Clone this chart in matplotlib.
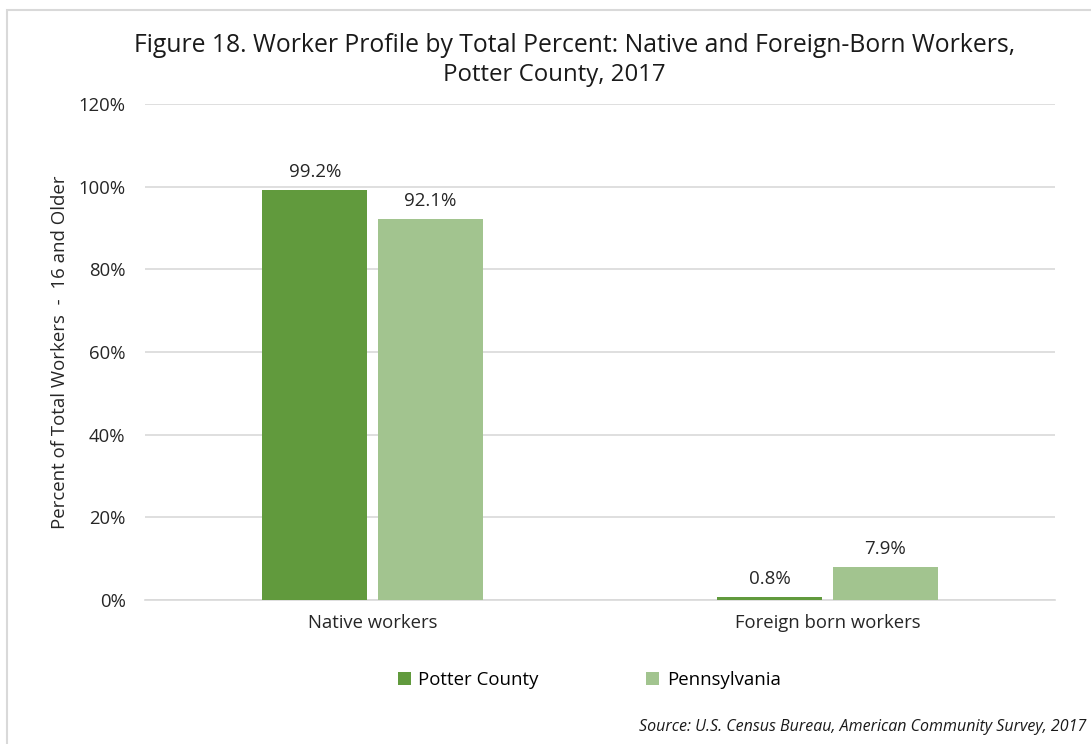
import matplotlib.pyplot as plt
import numpy as np
from matplotlib.patches import Rectangle

# data
categories = ['Native workers', 'Foreign born workers']
potter = [99.2, 0.8]
penn = [92.1, 7.9]
series_names = ['Potter County', 'Pennsylvania']
yticks = [0, 20, 40, 60, 80, 100, 120]

plt.rcParams['font.family'] = ['Open Sans', 'DejaVu Sans']

fig = plt.figure(figsize=(10.91, 7.44), dpi=100)
ax = fig.add_axes([0.1329, 0.1935, 0.834, 0.6667])

# chart border (Excel frame)
fig.patches.append(Rectangle((7 / 1091, -0.1), 1.2, 1 - 10 / 744 + 0.1,
                             transform=fig.transFigure, fill=False,
                             edgecolor='#d9d9d9', linewidth=1.5))

x = np.arange(len(categories))
w = 0.231
off = 0.127
dark = '#619a3d'
light = '#a2c48f'
b1 = ax.bar(x - off, potter, w, color=dark, label=series_names[0], zorder=3)
b2 = ax.bar(x + off, penn, w, color=light, label=series_names[1], zorder=3)

for bars, vals in ((b1, potter), (b2, penn)):
    for b, v in zip(bars, vals):
        ax.text(b.get_x() + b.get_width() / 2, v + 2.2, f'{v:.1f}%',
                ha='center', va='bottom', fontsize=13.5, color='#262626')

ax.set_xlim(-0.5, 1.5)
ax.set_ylim(0, 120)
ax.set_yticks(yticks)
ax.set_yticklabels([f'{t}%' for t in yticks])
ax.set_xticks(x)
ax.set_xticklabels(categories)
ax.tick_params(axis='both', length=0, labelsize=13.3, labelcolor='#262626')
ax.tick_params(axis='y', pad=14)
ax.tick_params(axis='x', pad=10)
ax.grid(axis='y', color='#d9d9d9', linewidth=1.2, zorder=0)
for s in ['top', 'right', 'left']:
    ax.spines[s].set_visible(False)
ax.spines['bottom'].set_color('#d9d9d9')
ax.spines['bottom'].set_linewidth(1.2)

ax.set_ylabel('Percent of Total Workers  -  16 and Older', fontsize=13.4,
              color='#262626', labelpad=7)

fig.text(0.527, 0.9395, 'Figure 18. Worker Profile by Total Percent: Native and Foreign-Born Workers,',
         ha='center', va='center', fontsize=17.8, color='#1a1a1a')
fig.text(0.508, 0.899, 'Potter County, 2017', ha='center', va='center',
         fontsize=17.3, color='#1a1a1a')

fig.legend(handles=[b1, b2], labels=series_names, loc='center',
           bbox_to_anchor=(0.54, 0.086), ncol=2, frameon=False, fontsize=13.4,
           handlelength=0.7, handleheight=0.7, columnspacing=5.8, handletextpad=0.4)

fig.text(0.996, 0.023, 'Source: U.S. Census Bureau, American Community Survey, 2017',
         ha='right', va='center', fontsize=11.5, style='italic', color='#1a1a1a')

fig.savefig('out.png', dpi=100)
